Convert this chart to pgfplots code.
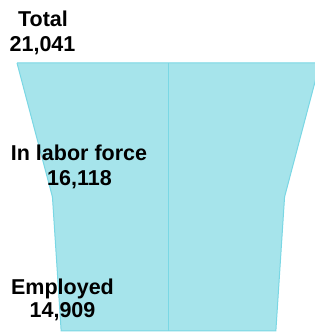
\documentclass[border=0pt]{standalone}
\usepackage{pgfplots}
\pgfplotsset{compat=1.18}
\usepackage{fontspec}
\setmainfont{Liberation Sans}
\definecolor{funnelfill}{RGB}{166,228,235}
\definecolor{funneledge}{RGB}{122,215,228}
\tikzset{lbl/.style={anchor=base, font=\fontsize{21.5bp}{25bp}\selectfont\bfseries, inner sep=0pt}}
\begin{document}
\begin{tikzpicture}
\begin{axis}[
  at={(0,0)}, anchor=south west,
  width=315bp, height=335bp, scale only axis,
  hide axis,
  xmin=-11701, xmax=10173,
  ymin=-0.0299, ymax=2.470,
  clip mode=individual,
]
% funnel: half-widths are value/2 (Total 21,041; In labor force 16,118; Employed 14,909)
\addplot[fill=funnelfill, draw=funneledge, line width=1bp] coordinates {
  (-10520.5,2) (10520.5,2) (8059,1) (7454.5,0) (-7454.5,0) (-8059,1) (-10520.5,2)
};
\addplot[draw=funneledge, line width=1bp] coordinates {(0,2) (0,0)};
\node[lbl] at (axis cs:-8715,2.269) {Total};
\node[lbl] at (axis cs:-8750,2.082) {21,041};
\node[lbl] at (axis cs:-6215,1.276) {In labor force};
\node[lbl] at (axis cs:-6180,1.086) {16,118};
\node[lbl] at (axis cs:-7361,0.269) {Employed};
\node[lbl] at (axis cs:-7361,0.097) {14,909};
\end{axis}
\pgfresetboundingbox
\path[use as bounding box] (0,0) rectangle (315bp,335bp);
\end{tikzpicture}
\end{document}
